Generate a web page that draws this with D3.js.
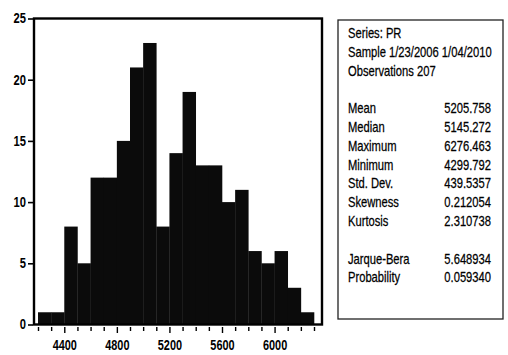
<!DOCTYPE html>
<html>
<head>
<meta charset="utf-8">
<script src="https://cdn.jsdelivr.net/npm/d3@7"></script>
<style>
  body { margin: 0; background: #fff; }
  text { font-family: "Liberation Sans Narrow", "Arial Narrow", "Liberation Sans", sans-serif; fill: #000; }
</style>
</head>
<body>
<div id="chart"></div>
<script>
// histogram bins (lower edge) and counts, bin width 100
let binStarts = [4200, 4300, 4400, 4500, 4600, 4700, 4800, 4900, 5000, 5100, 5200,
                 5300, 5400, 5500, 5600, 5700, 5800, 5900, 6000, 6100, 6200];
let counts = [1, 1, 8, 5, 12, 12, 15, 21, 23, 8, 14,
              19, 13, 13, 10, 11, 6, 5, 6, 3, 1];
let binWidth = 100;

let yTicks = [0, 5, 10, 15, 20, 25];
let xMinorTicks = [4200, 4300, 4400, 4500, 4600, 4700, 4800, 4900, 5000, 5100, 5200,
                   5300, 5400, 5500, 5600, 5700, 5800, 5900, 6000, 6100, 6200, 6300];
let xLabels = [4400, 4800, 5200, 5600, 6000];

let headerLines = ["Series: PR", "Sample 1/23/2006 1/04/2010", "Observations 207"];
let statNames = ["Mean", "Median", "Maximum", "Minimum", "Std. Dev.", "Skewness", "Kurtosis"];
let statValues = ["5205.758", "5145.272", "6276.463", "4299.792", "439.5357", "0.212054", "2.310738"];
let testNames = ["Jarque-Bera", "Probability"];
let testValues = ["5.648934", "0.059340"];

let width = 508;
let height = 355;

let svg = d3.select("#chart")
  .append("svg")
  .attr("width", width)
  .attr("height", height);

let frame = { left: 34, top: 18.5, right: 322, bottom: 324.5 };

let xScale = d3.scaleLinear().domain([4200, 6300]).range([38, 314]);
let yScale = d3.scaleLinear().domain([0, 25]).range([324.5, 18.5]);

// squeeze text sideways (no narrow font installed)
function narrow(sel, sx) {
  sel.each(function() {
    let t = d3.select(this);
    let x = +t.attr("x") || 0;
    t.attr("x", x / sx).attr("transform", "scale(" + sx + ",1)");
  });
}

// bars
svg.append("g")
  .selectAll("rect")
  .data(counts)
  .enter()
  .append("rect")
  .attr("x", function(d, i) { return xScale(binStarts[i]); })
  .attr("y", function(d) { return yScale(d); })
  .attr("width", function(d, i) { return xScale(binStarts[i] + binWidth) - xScale(binStarts[i]) + 0.3; })
  .attr("height", function(d) { return yScale(0) - yScale(d); })
  .attr("fill", "#0b0b0b");

// plot frame
svg.append("rect")
  .attr("x", frame.left)
  .attr("y", frame.top)
  .attr("width", frame.right - frame.left)
  .attr("height", frame.bottom - frame.top)
  .attr("fill", "none")
  .attr("stroke", "#000")
  .attr("stroke-width", 2.4);

// y axis
let yAxis = d3.axisLeft(yScale)
  .tickValues(yTicks)
  .tickSize(5)
  .tickPadding(2)
  .tickFormat(d3.format("d"));

let yG = svg.append("g")
  .attr("transform", "translate(" + (frame.left - 1) + ",0)")
  .call(yAxis);
yG.select(".domain").remove();
yG.selectAll("line").attr("stroke", "#000").attr("stroke-width", 1.6);
yG.selectAll("text")
  .attr("font-size", 14)
  .attr("font-weight", "bold")
  .attr("font-family", null)
  .call(narrow, 0.8);

// x axis: minor ticks every 100, labels every 400
let xAxis = d3.axisBottom(xScale)
  .tickValues(xMinorTicks)
  .tickSize(5)
  .tickPadding(8)
  .tickFormat(function(d) { return xLabels.indexOf(d) >= 0 ? d : ""; });

let xG = svg.append("g")
  .attr("transform", "translate(0," + (frame.bottom + 2.5) + ")")
  .call(xAxis);
xG.select(".domain").remove();
xG.selectAll("line")
  .attr("stroke", "#000")
  .attr("stroke-width", 1.4)
  .attr("y2", function(d) { return xLabels.indexOf(d) >= 0 ? 6 : 4; });
xG.selectAll("text")
  .attr("font-size", 14)
  .attr("font-weight", "bold")
  .attr("font-family", null)
  .call(narrow, 0.78);

// stats box
let box = { left: 338, top: 20, right: 503, bottom: 319 };
svg.append("rect")
  .attr("x", box.left)
  .attr("y", box.top)
  .attr("width", box.right - box.left)
  .attr("height", box.bottom - box.top)
  .attr("fill", "none")
  .attr("stroke", "#222")
  .attr("stroke-width", 1.3);

let rowH = 18.8;
let firstRow = 38;
let textLeft = 348;
let valueRight = 491;

let stats = svg.append("g")
  .attr("font-size", 14)
  .attr("stroke", "#000")
  .attr("stroke-width", 0.25);

headerLines.forEach(function(t, i) {
  stats.append("text")
    .attr("x", textLeft)
    .attr("y", firstRow + i * rowH)
    .text(t);
});

statNames.forEach(function(t, i) {
  let y = firstRow + (i + 4) * rowH;
  stats.append("text").attr("x", textLeft).attr("y", y).text(t);
  stats.append("text").attr("x", valueRight).attr("y", y)
    .attr("text-anchor", "end").text(statValues[i]);
});

testNames.forEach(function(t, i) {
  let y = firstRow + (i + 12) * rowH;
  stats.append("text").attr("x", textLeft).attr("y", y).text(t);
  stats.append("text").attr("x", valueRight).attr("y", y)
    .attr("text-anchor", "end").text(testValues[i]);
});

stats.selectAll("text").call(narrow, 0.8);
</script>
</body>
</html>
